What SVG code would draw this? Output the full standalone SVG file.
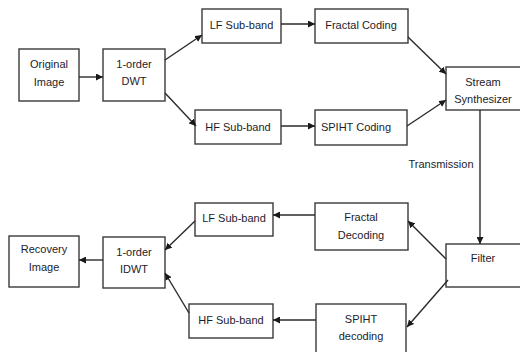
<svg xmlns="http://www.w3.org/2000/svg" width="520" height="352" viewBox="0 0 520 352">
<defs>
<marker id="ah" viewBox="0 0 10 10" refX="10" refY="5" markerWidth="7" markerHeight="7" markerUnits="userSpaceOnUse" orient="auto">
<path d="M0,0 L10,5 L0,10 z" fill="#1a1a1a"/>
</marker>
<style>
.box{fill:#fff;stroke:#3a3a3a;stroke-width:1.4}
.t{font-family:"Liberation Sans",Arial,sans-serif;font-size:11px;fill:#1c1c2c;text-anchor:middle}
.c{stroke:#2a2a2a;stroke-width:1.4;fill:none;marker-end:url(#ah)}
.ln{stroke:#2a2a2a;stroke-width:1.4;fill:none}
</style>
</defs>
<rect width="520" height="352" fill="#fff"/>
<g id="original"><rect class="box" x="19" y="49" width="60" height="52"/><text class="t" x="49" y="68">Original</text><text class="t" x="49" y="86">Image</text></g>
<g id="dwt"><rect class="box" x="103" y="49" width="62" height="52"/><text class="t" x="134" y="68">1-order</text><text class="t" x="134" y="85">DWT</text></g>
<g id="lf1"><rect class="box" x="202" y="9" width="79" height="34"/><text class="t" x="241.5" y="29">LF Sub-band</text></g>
<g id="hf1"><rect class="box" x="195" y="110" width="86" height="34"/><text class="t" x="238" y="131">HF Sub-band</text></g>
<g id="fractal"><rect class="box" x="315" y="9" width="93" height="34"/><text class="t" x="361" y="29">Fractal Coding</text></g>
<g id="spiht"><rect class="box" x="315" y="110" width="92" height="35"/><text class="t" x="356" y="131">SPIHT Coding</text></g>
<g id="stream"><rect class="box" x="446" y="67" width="80" height="43"/><text class="t" x="483" y="86">Stream</text><text class="t" x="483" y="103">Synthesizer</text></g>
<g id="filter"><rect class="box" x="446" y="244" width="80" height="43"/><text class="t" x="483" y="262">Filter</text></g>
<g id="fdec"><rect class="box" x="315" y="203" width="93" height="47"/><text class="t" x="361" y="221">Fractal</text><text class="t" x="361" y="239">Decoding</text></g>
<g id="sdec"><rect class="box" x="316" y="304" width="90" height="60"/><text class="t" x="361" y="323">SPIHT</text><text class="t" x="361" y="340">decoding</text></g>
<g id="lf2"><rect class="box" x="195" y="203" width="78" height="33"/><text class="t" x="234" y="222">LF Sub-band</text></g>
<g id="hf2"><rect class="box" x="189" y="304" width="84" height="34"/><text class="t" x="231" y="324">HF Sub-band</text></g>
<g id="idwt"><rect class="box" x="103" y="237" width="62" height="51"/><text class="t" x="134" y="256">1-order</text><text class="t" x="134" y="273">IDWT</text></g>
<g id="recovery"><rect class="box" x="9" y="236" width="70" height="51"/><text class="t" x="44" y="253">Recovery</text><text class="t" x="44" y="271">Image</text></g>
<g id="connectors">
<line class="c" x1="79" y1="77" x2="103" y2="77"/>
<line class="c" x1="165" y1="60" x2="202" y2="35"/>
<line class="c" x1="165" y1="93" x2="196" y2="126"/>
<line class="c" x1="281" y1="24" x2="315" y2="24"/>
<line class="c" x1="281" y1="126" x2="315" y2="126"/>
<line class="c" x1="408" y1="37" x2="446" y2="74"/>
<line class="c" x1="407" y1="126" x2="446" y2="100"/>
<line class="c" x1="480" y1="110" x2="480" y2="244"/>
<text class="t" x="441" y="168">Transmission</text>
<line class="c" x1="446" y1="259" x2="408" y2="221"/>
<line class="c" x1="448" y1="280" x2="407" y2="327"/>
<line class="c" x1="315" y1="215" x2="273" y2="215"/>
<line class="c" x1="316" y1="320" x2="273" y2="320"/>
<line class="c" x1="195" y1="221" x2="165" y2="250"/>
<line class="c" x1="189" y1="313" x2="165" y2="273"/>
<line class="c" x1="103" y1="260" x2="79" y2="260"/>
</g>
</svg>
